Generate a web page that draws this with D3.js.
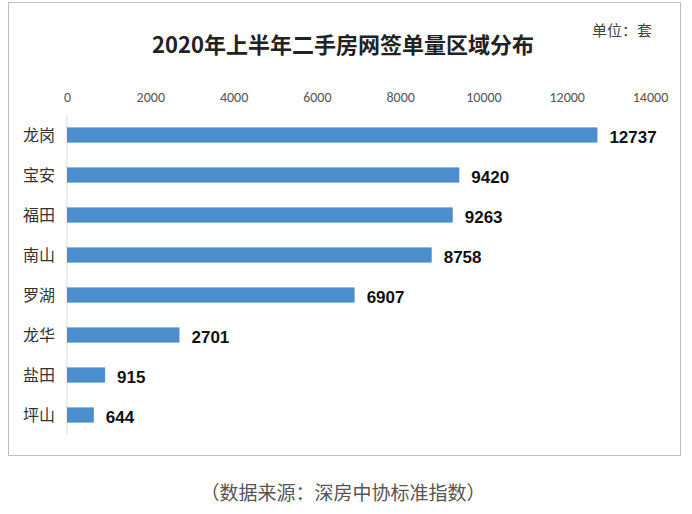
<!DOCTYPE html>
<html><head><meta charset="utf-8">
<script src="https://cdn.jsdelivr.net/npm/d3@7"></script>
<style>body{margin:0;background:#fff}</style>
</head><body><div id="container"></div>
<script>
const districts = ["龙岗","宝安","福田","南山","罗湖","龙华","盐田","坪山"];
const counts = [12737, 9420, 9263, 8758, 6907, 2701, 915, 644];
const tickValues = [0,2000,4000,6000,8000,10000,12000,14000];

const w = 692, h = 514;
const cjk = "'Noto Sans CJK SC', sans-serif";
const svg = d3.select("#container").append("svg").attr("width",w).attr("height",h);

svg.append("rect").attr("x",8.5).attr("y",2.5).attr("width",672).attr("height",453)
   .attr("fill","none").attr("stroke","#bfbfbf");

svg.append("text").attr("x",343).attr("y",53).attr("text-anchor","middle")
   .attr("font-family",cjk).attr("font-weight","bold").attr("font-size",22).attr("fill","#222")
   .text("2020年上半年二手房网签单量区域分布");
svg.append("text").attr("x",622).attr("y",36).attr("text-anchor","middle")
   .attr("font-family",cjk).attr("font-size",15).attr("fill","#444").text("单位：套");

const xScale = d3.scaleLinear().domain([0,14000]).range([67,650]);
const yScale = d3.scaleBand().domain(districts).range([115,435]).paddingInner(0.62).paddingOuter(0.31);

const xAxis = d3.axisTop(xScale).tickValues(tickValues).tickFormat(d3.format("d")).tickSize(0).tickPadding(0);
const gx = svg.append("g").attr("transform","translate(0,102)").call(xAxis);
gx.select(".domain").remove();
gx.selectAll("text").attr("font-family","Carlito, 'Liberation Sans', sans-serif")
  .attr("font-size",14).attr("fill","#555");

svg.append("line").attr("x1",67).attr("x2",67).attr("y1",115).attr("y2",435)
   .attr("stroke","#d9d9d9");

svg.selectAll("text.cat").data(districts).enter().append("text").attr("class","cat")
   .attr("x",55).attr("y",d=>yScale(d)+yScale.bandwidth()/2).attr("dy","0.35em")
   .attr("text-anchor","end").attr("font-family",cjk).attr("font-size",16).attr("fill","#333")
   .text(d=>d);

svg.selectAll("rect.bar").data(counts).enter().append("rect").attr("class","bar")
   .attr("x",xScale(0)).attr("y",(d,i)=>yScale(districts[i]))
   .attr("width",d=>xScale(d)-xScale(0)).attr("height",yScale.bandwidth())
   .attr("fill","#4a8ed0");

svg.selectAll("text.val").data(counts).enter().append("text").attr("class","val")
   .attr("x",d=>xScale(d)+12).attr("y",(d,i)=>yScale(districts[i])+yScale.bandwidth()/2+2)
   .attr("dy","0.35em").attr("font-family","'Liberation Sans', sans-serif").attr("font-weight","bold")
   .attr("font-size",17).attr("fill","#111").text(d=>d);

svg.append("text").attr("x",343).attr("y",500).attr("text-anchor","middle")
   .attr("font-family",cjk).attr("font-size",19).attr("fill","#555")
   .text("（数据来源：深房中协标准指数）");
</script></body></html>
